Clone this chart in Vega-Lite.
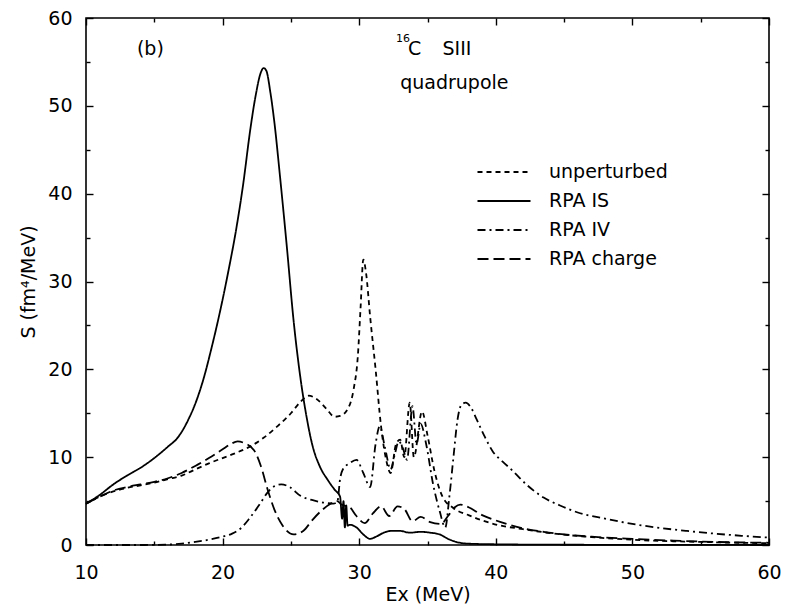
{
  "$schema": "https://vega.github.io/schema/vega-lite/v6.json",
  "width": 683,
  "height": 527,
  "autosize": "none",
  "padding": {"left": 86, "top": 18, "right": 18, "bottom": 69},
  "background": "white",
  "config": {
    "font": "DejaVu Sans",
    "view": {"stroke": "black", "strokeWidth": 1.6},
    "axis": {
      "domain": false, "grid": false, "ticks": true, "tickColor": "black", "tickWidth": 1.4,
      "tickSize": -7, "labelFontSize": 19, "labelColor": "black", "labelFont": "DejaVu Sans",
      "titleFontSize": 19, "titleFontWeight": "normal", "titleColor": "black", "titleFont": "DejaVu Sans",
      "labelFlush": false, "labelOverlap": false
    },
    "legend": {"labelFont": "DejaVu Sans"}
  },
  "layer": [
    {
      "data": {"values": [
    {"series":"unperturbed","E":10,"S":4.7},{"series":"unperturbed","E":11,"S":5.5},{"series":"unperturbed","E":12,"S":6.1},{"series":"unperturbed","E":13,"S":6.5},{"series":"unperturbed","E":14,"S":6.8},{"series":"unperturbed","E":15,"S":7.1},{"series":"unperturbed","E":16,"S":7.5},{"series":"unperturbed","E":17,"S":7.9},{"series":"unperturbed","E":18,"S":8.6},{"series":"unperturbed","E":19,"S":9.3},{"series":"unperturbed","E":20,"S":9.9},{"series":"unperturbed","E":21,"S":10.5},{"series":"unperturbed","E":22,"S":11.2},{"series":"unperturbed","E":23,"S":12.2},{"series":"unperturbed","E":24,"S":13.5},{"series":"unperturbed","E":25,"S":15.0},{"series":"unperturbed","E":25.7,"S":16.3},{"series":"unperturbed","E":26.3,"S":17.0},{"series":"unperturbed","E":26.9,"S":16.6},{"series":"unperturbed","E":27.6,"S":15.5},{"series":"unperturbed","E":28.2,"S":14.6},{"series":"unperturbed","E":28.6,"S":14.7},{"series":"unperturbed","E":29.2,"S":15.6},{"series":"unperturbed","E":29.6,"S":17.8},{"series":"unperturbed","E":29.9,"S":21.5},{"series":"unperturbed","E":30.1,"S":27},{"series":"unperturbed","E":30.3,"S":32.5},{"series":"unperturbed","E":30.5,"S":31},{"series":"unperturbed","E":30.8,"S":26},{"series":"unperturbed","E":31.2,"S":20},{"series":"unperturbed","E":31.6,"S":13.5},{"series":"unperturbed","E":32.0,"S":9.5},{"series":"unperturbed","E":32.3,"S":8.2},{"series":"unperturbed","E":32.7,"S":11.5},{"series":"unperturbed","E":33.0,"S":12},{"series":"unperturbed","E":33.3,"S":10},{"series":"unperturbed","E":33.7,"S":16.2},{"series":"unperturbed","E":34.0,"S":10},{"series":"unperturbed","E":34.6,"S":15.2},{"series":"unperturbed","E":35.0,"S":12.5},{"series":"unperturbed","E":35.5,"S":8.5},{"series":"unperturbed","E":36.1,"S":5.5},{"series":"unperturbed","E":36.9,"S":4.2},{"series":"unperturbed","E":38,"S":3.4},{"series":"unperturbed","E":39,"S":2.8},{"series":"unperturbed","E":40.1,"S":2.3},{"series":"unperturbed","E":42,"S":1.8},{"series":"unperturbed","E":44,"S":1.35},{"series":"unperturbed","E":47,"S":0.9},{"series":"unperturbed","E":50,"S":0.6},{"series":"unperturbed","E":55,"S":0.35},{"series":"unperturbed","E":60,"S":0.2},

    {"series":"RPA IS","E":10,"S":4.7},{"series":"RPA IS","E":11,"S":5.7},{"series":"RPA IS","E":12,"S":6.9},{"series":"RPA IS","E":13,"S":7.9},{"series":"RPA IS","E":14,"S":8.8},{"series":"RPA IS","E":15,"S":9.9},{"series":"RPA IS","E":16,"S":11.2},{"series":"RPA IS","E":16.7,"S":12.2},{"series":"RPA IS","E":17.5,"S":14.3},{"series":"RPA IS","E":18.1,"S":16.5},{"series":"RPA IS","E":18.6,"S":18.9},{"series":"RPA IS","E":19.2,"S":22.5},{"series":"RPA IS","E":19.8,"S":26.5},{"series":"RPA IS","E":20.4,"S":31},{"series":"RPA IS","E":21.0,"S":36},{"series":"RPA IS","E":21.5,"S":41},{"series":"RPA IS","E":22.0,"S":47},{"series":"RPA IS","E":22.4,"S":51},{"series":"RPA IS","E":22.8,"S":53.8},{"series":"RPA IS","E":23.0,"S":54.3},{"series":"RPA IS","E":23.2,"S":54},{"series":"RPA IS","E":23.5,"S":51.5},{"series":"RPA IS","E":23.8,"S":48},{"series":"RPA IS","E":24.2,"S":42},{"series":"RPA IS","E":24.7,"S":34},{"series":"RPA IS","E":25.2,"S":25.5},{"series":"RPA IS","E":25.7,"S":19},{"series":"RPA IS","E":26.1,"S":15},{"series":"RPA IS","E":26.6,"S":11.2},{"series":"RPA IS","E":27.1,"S":9},{"series":"RPA IS","E":27.7,"S":7.4},{"series":"RPA IS","E":28.2,"S":6.3},{"series":"RPA IS","E":28.6,"S":5.5},{"series":"RPA IS","E":28.75,"S":3.0},{"series":"RPA IS","E":28.85,"S":5.0},{"series":"RPA IS","E":28.95,"S":2.0},{"series":"RPA IS","E":29.05,"S":4.5},{"series":"RPA IS","E":29.15,"S":2.2},{"series":"RPA IS","E":29.3,"S":2.3},{"series":"RPA IS","E":29.8,"S":2.0},{"series":"RPA IS","E":30.3,"S":1.2},{"series":"RPA IS","E":30.8,"S":0.7},{"series":"RPA IS","E":31.3,"S":1.0},{"series":"RPA IS","E":31.8,"S":1.4},{"series":"RPA IS","E":32.3,"S":1.6},{"series":"RPA IS","E":33,"S":1.6},{"series":"RPA IS","E":33.7,"S":1.4},{"series":"RPA IS","E":34.5,"S":1.5},{"series":"RPA IS","E":35.2,"S":1.4},{"series":"RPA IS","E":35.9,"S":1.2},{"series":"RPA IS","E":36.5,"S":0.7},{"series":"RPA IS","E":37.1,"S":0.35},{"series":"RPA IS","E":38,"S":0.15},{"series":"RPA IS","E":40,"S":0.08},{"series":"RPA IS","E":45,"S":0.03},{"series":"RPA IS","E":50,"S":0.02},{"series":"RPA IS","E":60,"S":0.0},

    {"series":"RPA IV","E":10,"S":0},{"series":"RPA IV","E":12,"S":0},{"series":"RPA IV","E":14,"S":0},{"series":"RPA IV","E":16,"S":0.05},{"series":"RPA IV","E":17,"S":0.15},{"series":"RPA IV","E":18,"S":0.35},{"series":"RPA IV","E":19,"S":0.6},{"series":"RPA IV","E":20,"S":0.95},{"series":"RPA IV","E":20.7,"S":1.3},{"series":"RPA IV","E":21.4,"S":2.0},{"series":"RPA IV","E":22.0,"S":3.1},{"series":"RPA IV","E":22.7,"S":4.6},{"series":"RPA IV","E":23.3,"S":6.0},{"series":"RPA IV","E":23.8,"S":6.7},{"series":"RPA IV","E":24.3,"S":6.9},{"series":"RPA IV","E":24.9,"S":6.6},{"series":"RPA IV","E":25.7,"S":5.6},{"series":"RPA IV","E":26.6,"S":5.1},{"series":"RPA IV","E":27.5,"S":4.8},{"series":"RPA IV","E":28.1,"S":4.7},{"series":"RPA IV","E":28.4,"S":4.9},{"series":"RPA IV","E":28.6,"S":7.5},{"series":"RPA IV","E":28.8,"S":8.6},{"series":"RPA IV","E":29.3,"S":9.3},{"series":"RPA IV","E":29.8,"S":9.7},{"series":"RPA IV","E":30.3,"S":8.2},{"series":"RPA IV","E":30.8,"S":6.6},{"series":"RPA IV","E":31.2,"S":11.5},{"series":"RPA IV","E":31.5,"S":13.5},{"series":"RPA IV","E":31.9,"S":11},{"series":"RPA IV","E":32.3,"S":8.6},{"series":"RPA IV","E":32.6,"S":10.3},{"series":"RPA IV","E":32.9,"S":11.8},{"series":"RPA IV","E":33.2,"S":11},{"series":"RPA IV","E":33.5,"S":9.7},{"series":"RPA IV","E":33.9,"S":15.8},{"series":"RPA IV","E":34.2,"S":11.5},{"series":"RPA IV","E":34.5,"S":13.8},{"series":"RPA IV","E":34.9,"S":11.5},{"series":"RPA IV","E":35.4,"S":7.0},{"series":"RPA IV","E":35.9,"S":3.8},{"series":"RPA IV","E":36.3,"S":2.0},{"series":"RPA IV","E":36.6,"S":5.5},{"series":"RPA IV","E":36.9,"S":10},{"series":"RPA IV","E":37.2,"S":14.3},{"series":"RPA IV","E":37.5,"S":16.0},{"series":"RPA IV","E":37.8,"S":16.2},{"series":"RPA IV","E":38.2,"S":15.6},{"series":"RPA IV","E":38.6,"S":14.3},{"series":"RPA IV","E":39.2,"S":12.3},{"series":"RPA IV","E":39.8,"S":10.6},{"series":"RPA IV","E":40.5,"S":9.5},{"series":"RPA IV","E":41.2,"S":8.5},{"series":"RPA IV","E":42.3,"S":6.8},{"series":"RPA IV","E":43.5,"S":5.4},{"series":"RPA IV","E":44.7,"S":4.5},{"series":"RPA IV","E":46,"S":3.7},{"series":"RPA IV","E":48,"S":3.0},{"series":"RPA IV","E":50,"S":2.4},{"series":"RPA IV","E":52,"S":1.95},{"series":"RPA IV","E":54,"S":1.6},{"series":"RPA IV","E":56,"S":1.3},{"series":"RPA IV","E":58,"S":1.05},{"series":"RPA IV","E":60,"S":0.85},

    {"series":"RPA charge","E":10,"S":4.7},{"series":"RPA charge","E":11,"S":5.5},{"series":"RPA charge","E":12,"S":6.2},{"series":"RPA charge","E":13,"S":6.6},{"series":"RPA charge","E":14,"S":6.9},{"series":"RPA charge","E":15,"S":7.2},{"series":"RPA charge","E":16,"S":7.6},{"series":"RPA charge","E":17,"S":8.2},{"series":"RPA charge","E":18,"S":9.0},{"series":"RPA charge","E":19,"S":9.9},{"series":"RPA charge","E":20,"S":10.9},{"series":"RPA charge","E":20.6,"S":11.5},{"series":"RPA charge","E":21.1,"S":11.8},{"series":"RPA charge","E":21.6,"S":11.6},{"series":"RPA charge","E":22.3,"S":10.8},{"series":"RPA charge","E":22.8,"S":9.0},{"series":"RPA charge","E":23.3,"S":6.3},{"series":"RPA charge","E":23.8,"S":4.0},{"series":"RPA charge","E":24.4,"S":2.2},{"series":"RPA charge","E":25.2,"S":1.2},{"series":"RPA charge","E":25.9,"S":1.6},{"series":"RPA charge","E":26.6,"S":2.9},{"series":"RPA charge","E":27.3,"S":4.0},{"series":"RPA charge","E":27.9,"S":4.7},{"series":"RPA charge","E":28.4,"S":5.0},{"series":"RPA charge","E":28.7,"S":4.6},{"series":"RPA charge","E":29.3,"S":4.3},{"series":"RPA charge","E":29.8,"S":3.3},{"series":"RPA charge","E":30.4,"S":2.5},{"series":"RPA charge","E":31.0,"S":3.6},{"series":"RPA charge","E":31.6,"S":4.4},{"series":"RPA charge","E":32.2,"S":3.3},{"series":"RPA charge","E":32.8,"S":4.4},{"series":"RPA charge","E":33.3,"S":4.1},{"series":"RPA charge","E":33.9,"S":2.7},{"series":"RPA charge","E":34.5,"S":3.2},{"series":"RPA charge","E":35.2,"S":2.6},{"series":"RPA charge","E":36.0,"S":2.4},{"series":"RPA charge","E":36.5,"S":3.3},{"series":"RPA charge","E":37.0,"S":4.3},{"series":"RPA charge","E":37.4,"S":4.6},{"series":"RPA charge","E":38.0,"S":4.3},{"series":"RPA charge","E":39.0,"S":3.4},{"series":"RPA charge","E":40.0,"S":2.8},{"series":"RPA charge","E":40.8,"S":2.4},{"series":"RPA charge","E":42,"S":1.9},{"series":"RPA charge","E":43.5,"S":1.5},{"series":"RPA charge","E":45,"S":1.2},{"series":"RPA charge","E":47,"S":0.95},{"series":"RPA charge","E":50,"S":0.7},{"series":"RPA charge","E":53,"S":0.5},{"series":"RPA charge","E":56,"S":0.35},{"series":"RPA charge","E":60,"S":0.25}
      ]},
      "mark": {"type": "line", "color": "black", "strokeWidth": 1.8, "interpolate": "monotone"},
      "encoding": {
        "x": {"field": "E", "type": "quantitative", "scale": {"domain": [10, 60], "nice": false},
              "axis": {"orient": "bottom", "title": "Ex (MeV)", "values": [10, 20, 30, 40, 50, 60], "labelPadding": 25, "titlePadding": 3}},
        "y": {"field": "S", "type": "quantitative", "scale": {"domain": [0, 60], "nice": false},
              "axis": {"orient": "left", "title": "S (fm⁴/MeV)", "values": [0, 10, 20, 30, 40, 50, 60], "labelPadding": 21, "titlePadding": 9}},
        "strokeDash": {"field": "series", "type": "nominal",
          "scale": {"domain": ["unperturbed", "RPA IS", "RPA IV", "RPA charge"], "range": [[5, 4], [1, 0], [8, 4, 2, 4], [11, 5]]},
          "legend": {"title": null, "orient": "none", "legendX": 399, "legendY": 135, "symbolType": "M-1.47,0L1.47,0",
                     "symbolSize": 1300, "symbolStrokeWidth": 1.8, "symbolStrokeColor": "black", "symbolFillColor": "transparent",
                     "labelFontSize": 19, "labelColor": "black", "labelOffset": 26, "rowPadding": 0}}
      }
    },
    {
      "data": {"values": [{}]},
      "mark": {"type": "text", "align": "left", "baseline": "middle", "fontSize": 19, "color": "black"},
      "encoding": {
        "text": {"value": "(b)"},
        "x": {"datum": 13.73, "type": "quantitative", "axis": {"orient": "top", "labels": false, "title": null, "values": [10, 20, 30, 40, 50, 60]}},
        "y": {"datum": 56.5, "type": "quantitative", "axis": {"orient": "right", "labels": false, "title": null, "values": [0, 10, 20, 30, 40, 50, 60]}}
      }
    },
    {
      "data": {"values": [{}]},
      "mark": {"type": "text", "align": "left", "baseline": "middle", "fontSize": 11, "color": "black"},
      "encoding": {
        "text": {"value": "16"},
        "x": {"datum": 32.7, "type": "quantitative", "axis": {"orient": "bottom", "labels": false, "title": null, "tickSize": -4, "values": [15, 25, 35, 45, 55]}},
        "y": {"datum": 57.6, "type": "quantitative", "axis": {"orient": "left", "labels": false, "title": null, "tickSize": -4, "values": [5, 15, 25, 35, 45, 55]}}
      }
    },
    {
      "data": {"values": [{}]},
      "mark": {"type": "text", "align": "left", "baseline": "middle", "fontSize": 19, "color": "black"},
      "encoding": {
        "text": {"value": "C"},
        "x": {"datum": 33.57, "type": "quantitative", "axis": {"orient": "top", "labels": false, "title": null, "tickSize": -4, "values": [15, 25, 35, 45, 55]}},
        "y": {"datum": 56.5, "type": "quantitative", "axis": {"orient": "right", "labels": false, "title": null, "tickSize": -4, "values": [5, 15, 25, 35, 45, 55]}}
      }
    },
    {
      "data": {"values": [{}]},
      "mark": {"type": "text", "align": "left", "baseline": "middle", "fontSize": 19, "color": "black"},
      "encoding": {
        "text": {"value": "SIII"},
        "x": {"datum": 36.1, "type": "quantitative", "axis": null},
        "y": {"datum": 56.5, "type": "quantitative", "axis": null}
      }
    },
    {
      "data": {"values": [{}]},
      "mark": {"type": "text", "align": "left", "baseline": "middle", "fontSize": 19, "color": "black"},
      "encoding": {
        "text": {"value": "quadrupole"},
        "x": {"datum": 33.0, "type": "quantitative", "axis": null},
        "y": {"datum": 52.6, "type": "quantitative", "axis": null}
      }
    }
  ],
  "resolve": {"axis": {"x": "independent", "y": "independent"}}
}
